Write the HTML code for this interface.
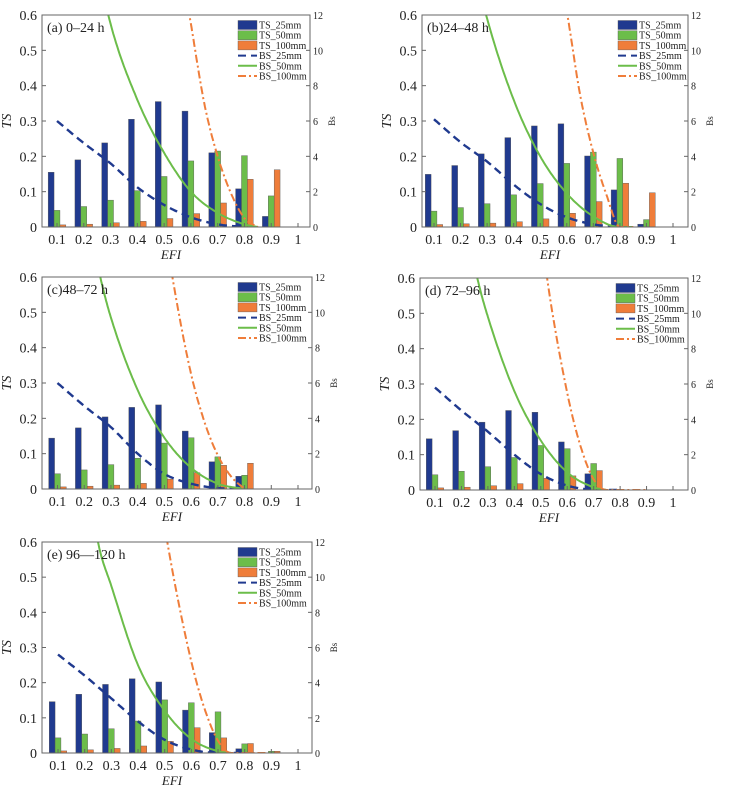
<!DOCTYPE html>
<html><head><meta charset="utf-8">
<style>
html,body{margin:0;padding:0;background:#fff;}
svg{display:block;font-family:"Liberation Serif",serif;}
</style></head>
<body>
<svg id="fig" width="736" height="789" viewBox="0 0 736 789"></svg>
<script>
const efiCats=[0.1,0.2,0.3,0.4,0.5,0.6,0.7,0.8,0.9,1];
const tsTicks=[0,0.1,0.2,0.3,0.4,0.5,0.6];
const bsTicks=[0,2,4,6,8,10,12];
const panelTitles=["(a) 0–24 h","(b)24–48 h","(c)48–72 h","(d) 72–96 h","(e) 96—120 h"];
const ts25=[[.155,.19,.238,.305,.355,.328,.21,.108,.03,0],[.149,.174,.207,.253,.286,.292,.201,.105,.008,0],[.144,.173,.204,.231,.238,.164,.077,.036,0,0],[.145,.168,.192,.225,.22,.136,.046,.002,0,0],[.146,.167,.195,.211,.202,.122,.058,.012,0,0]];
const ts50=[[.047,.058,.076,.103,.143,.187,.215,.202,.088,0],[.045,.055,.066,.091,.123,.18,.212,.194,.021,0],[.043,.054,.069,.087,.13,.145,.091,.039,0,0],[.043,.053,.066,.092,.126,.117,.075,0,0,0],[.043,.054,.069,.091,.151,.143,.117,.026,.005,0]];
const ts100=[[.006,.008,.012,.016,.024,.038,.068,.135,.162,0],[.007,.009,.011,.015,.023,.039,.072,.124,.097,0],[.006,.008,.011,.016,.028,.046,.067,.073,0,0],[.006,.008,.012,.018,.033,.04,.055,0,0,0],[.006,.009,.013,.02,.033,.072,.043,.027,.005,0]];
const bs25X=[0.1,0.2,0.3,0.4,0.5,0.6,0.7,0.8];
const bs25=[[6,4.75,3.6,2.25,1.25,0.55,0.15,0],[6.1,4.8,3.7,2.4,1.3,0.55,0.15,0],[6,4.7,3.5,2.0,0.85,0.3,0.05,0],[5.8,4.5,3.3,2.0,0.9,0.25,0.02,0],[5.6,4.4,3.1,1.8,0.75,0.2,0,0]];
const bs50X=[[0.25,0.3,0.4,0.5,0.6,0.7,0.8,0.85],[0.25,0.3,0.4,0.5,0.6,0.7,0.8,0.85],[0.22,0.26,0.3,0.4,0.5,0.6,0.7,0.8],[0.22,0.26,0.3,0.4,0.5,0.6,0.7,0.75],[0.22,0.25,0.3,0.4,0.5,0.6,0.7,0.75]];
const bs50=[[15,11.5,7.2,4.2,2.0,0.8,0.15,0],[15,11.8,7.2,4.0,1.9,0.6,0,0],[15,12,9.7,5.6,2.9,1.2,0.3,0],[15,12,9.8,5.6,2.8,1.0,0.15,0],[15,12,9.5,5.0,2.4,0.8,0.1,0]];
const bs100X=[[0.55,0.6,0.65,0.7,0.75,0.8,0.85],[0.55,0.6,0.65,0.7,0.75,0.8,0.85],[0.5,0.53,0.6,0.65,0.7,0.75,0.8],[0.5,0.524,0.6,0.65,0.7,0.75,0.9],[0.48,0.51,0.6,0.65,0.7,0.75,0.88]];
const bs100=[[16,11.5,7,4,1.9,0.5,0],[16,12.2,7.5,4.2,1.8,0,0],[15,12,6.5,3.8,1.9,0.7,0],[15,12,5.5,2.5,0.6,0,0],[15,12,5.2,2.5,0.7,0,0]];

const panels=[{L:42,R:310,T:15,B:227,t1:57,t10:298},{L:422,R:688,T:15,B:227,t1:434,t10:673},{L:42,R:312,T:277,B:489,t1:57.5,t10:298},{L:420,R:688,T:278,B:490,t1:435,t10:673},{L:42,R:312,T:542,B:753,t1:58,t10:298}];
const C25="#203a8f",C50="#6cbd4a",C100="#ef7d3a";
const NS="http://www.w3.org/2000/svg";
const svg=document.getElementById('fig');
function mk(tag,attrs,parent){const e=document.createElementNS(NS,tag);for(const k in attrs)e.setAttribute(k,attrs[k]);(parent||svg).appendChild(e);return e;}
function mono(xs,ys){const n=xs.length,d=[],m=[];for(let i=0;i<n-1;i++)d.push((ys[i+1]-ys[i])/(xs[i+1]-xs[i]));m[0]=d[0];m[n-1]=d[n-2];for(let i=1;i<n-1;i++){m[i]=(d[i-1]*d[i]<=0)?0:(d[i-1]+d[i])/2;}
for(let i=0;i<n-1;i++){if(d[i]===0){m[i]=0;m[i+1]=0;continue;}const a=m[i]/d[i],b=m[i+1]/d[i],s=a*a+b*b;if(s>9){const t=3/Math.sqrt(s);m[i]=t*a*d[i];m[i+1]=t*b*d[i];}}
const pts=[];for(let i=0;i<n-1;i++){const h=xs[i+1]-xs[i];for(let k=0;k<20;k++){const t=k/20,t2=t*t,t3=t2*t;const y=(2*t3-3*t2+1)*ys[i]+(t3-2*t2+t)*h*m[i]+(-2*t3+3*t2)*ys[i+1]+(t3-t2)*h*m[i+1];pts.push([xs[i]+t*h,Math.max(0,y)]);}}pts.push([xs[n-1],ys[n-1]]);return pts;}

panels.forEach((p,pi)=>{
  const g=mk('g',{});
  
  
  const sx=v=>p.t1+(v-0.1)*(p.t10-p.t1)/0.9;
  const sy=v=>p.B-v/0.6*(p.B-p.T);
  const sy2=v=>p.B-v/12*(p.B-p.T);
  const cid='clip'+pi;
  const cp=mk('clipPath',{id:cid},g);mk('rect',{x:p.L,y:p.T,width:p.R-p.L,height:p.B-p.T},cp);
  // bars
  const bw=(p.t10-p.t1)/9*0.22;
  efiCats.forEach((c,i)=>{
    [[ts25,C25,-1,'ts25'],[ts50,C50,0,'ts50'],[ts100,C100,1,'ts100']].forEach(([arr,col,off,nm])=>{
      const v=arr[pi][i];if(v<=0)return;
      const r=mk('rect',{x:sx(c)+off*bw-bw/2,y:sy(v),width:bw,height:p.B-sy(v),fill:col,stroke:'#555','stroke-width':0.4},g);
      
      
    });
  });
  // lines
  const lg=mk('g',{'clip-path':'url(#'+cid+')'},g);
  const lines=[[bs25X,bs25[pi],C25,'8,5',2.4,'bs25'],[bs50X[pi],bs50[pi],C50,'',2,'bs50'],[bs100X[pi],bs100[pi],C100,'8,3,2,3',2,'bs100']];
  lines.forEach(([xs,ys,col,da,w,nm])=>{
    const pts=mono(xs,ys);
    const d='M'+pts.map(q=>sx(q[0]).toFixed(1)+','+sy2(q[1]).toFixed(1)).join('L');
    const a={d:d,fill:'none',stroke:col,'stroke-width':w};if(da)a['stroke-dasharray']=da;
    const pe=mk('path',a,lg);
    
    
  });
  // axes
  const ax=mk('rect',{x:p.L,y:p.T,width:p.R-p.L,height:p.B-p.T,fill:'none',stroke:'#666','stroke-width':1},g);
  
  
  tsTicks.forEach(t=>{const y=sy(t);mk('line',{x1:p.L,x2:p.L+4,y1:y,y2:y,stroke:'#666'},g);
    const tx=mk('text',{x:p.L-5,y:y+5,'text-anchor':'end','font-size':14,fill:'#222'},g);tx.textContent=String(t);
    
    });
  bsTicks.forEach(t=>{const y=sy2(t);mk('line',{x1:p.R-4,x2:p.R,y1:y,y2:y,stroke:'#666'},g);
    const tx=mk('text',{x:p.R+3,y:y+4,'font-size':10,fill:'#222'},g);tx.textContent=String(t);
    
    });
  efiCats.forEach(c=>{const x=sx(c);mk('line',{x1:x,x2:x,y1:p.B,y2:p.B-4,stroke:'#666'},g);
    const tx=mk('text',{x:x,y:p.B+17,'text-anchor':'middle','font-size':14,fill:'#222'},g);tx.textContent=String(c);
    
    });
  const xt=mk('text',{x:(p.L+p.R)/2-5,y:p.B+32,'text-anchor':'middle','font-size':13,'font-style':'italic',fill:'#222'},g);xt.textContent='EFI';
  
  
  const yc=(p.T+p.B)/2;
  const yt=mk('text',{x:p.L-31,y:yc,'text-anchor':'middle','font-size':14,'font-style':'italic',fill:'#222',transform:'rotate(-90 '+(p.L-31)+' '+yc+')'},g);yt.textContent='TS';
  
  
  const y2=mk('text',{x:p.R+25,y:yc,'text-anchor':'middle','font-size':9,fill:'#222',transform:'rotate(-90 '+(p.R+25)+' '+yc+')'},g);y2.textContent='Bs';
  
  
  const ti=mk('text',{x:p.L+5,y:p.T+17,'font-size':14,fill:'#222'},g);ti.textContent=panelTitles[pi];
  
  
  // legend
  const lgx=p.L+196,lgy=p.T+10;
  const items=[['TS_25mm','bar',C25],['TS_50mm','bar',C50],['TS_100mm','bar',C100],['BS_25mm','line',C25,'8,5'],['BS_50mm','line',C50,''],['BS_100mm','line',C100,'8,3,2,3']];
  const leg=mk('g',{},g);
  
  
  items.forEach((it,k)=>{const y=lgy+k*10.2;
    if(it[1]==='bar')mk('rect',{x:lgx,y:y-4.5,width:19,height:9,fill:it[2],stroke:'#555','stroke-width':0.4},leg);
    else{const a={x1:lgx,x2:lgx+19,y1:y,y2:y,stroke:it[2],'stroke-width':2};if(it[3])a['stroke-dasharray']=it[3];mk('line',a,leg);}
    const tx=mk('text',{x:lgx+21,y:y+3.5,'font-size':10,fill:'#222'},leg);tx.textContent=it[0];
    
    
  });
});
</script>
</body></html>
